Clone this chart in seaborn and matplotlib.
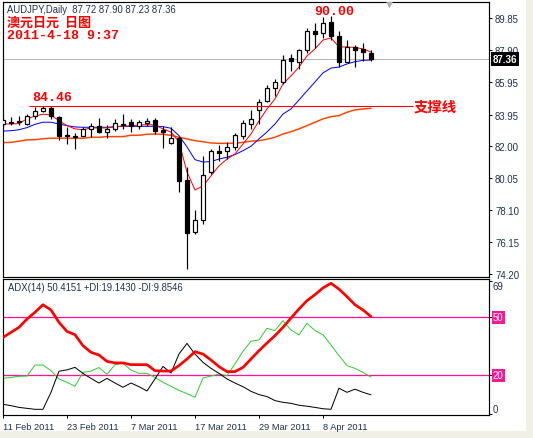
import matplotlib
matplotlib.use('Agg')
import matplotlib.pyplot as plt
import numpy as np
import seaborn as sns

opens = [83.37, 83.49, 83.55, 83.37, 83.86, 84.17, 84.35, 83.80, 82.70, 82.64, 82.64, 83.07, 83.25, 82.88, 83.07, 83.37,
         83.49, 83.25, 83.43, 83.62, 83.01, 82.21, 82.52, 79.95, 76.77, 77.51, 80.44, 81.72, 81.72, 81.97, 82.64, 83.37,
         84.20, 84.78, 85.57, 85.94, 87.41, 87.16, 87.89, 89.05, 88.93, 89.60, 88.75, 87.16, 88.08, 87.96, 87.72]
closes = [83.62, 83.43, 83.49, 83.86, 84.17, 84.35, 83.86, 82.64, 82.64, 82.58, 83.07, 83.25, 82.88, 83.07, 83.43, 83.31,
          83.25, 83.49, 83.56, 82.94, 82.88, 82.52, 79.89, 76.71, 77.51, 80.26, 81.72, 81.60, 81.97, 82.70, 83.43, 83.68,
          84.72, 85.57, 85.94, 87.28, 87.22, 87.89, 89.05, 88.87, 89.54, 88.75, 87.16, 88.08, 87.89, 87.77, 87.36]
highs = [83.74, 83.80, 83.86, 83.98, 84.41, 84.47, 84.47, 83.86, 83.19, 82.82, 83.19, 83.43, 83.74, 83.31, 83.68, 83.98,
         83.68, 83.62, 83.74, 83.74, 83.25, 83.19, 82.58, 80.74, 78.12, 81.42, 81.85, 82.09, 82.27, 82.82, 83.62, 84.23,
         84.90, 85.76, 86.12, 87.59, 87.65, 87.96, 89.24, 89.54, 89.91, 89.97, 89.05, 88.50, 88.20, 88.32, 87.90]
lows = [83.13, 83.31, 83.31, 83.31, 83.68, 84.11, 83.68, 82.40, 82.15, 81.85, 82.64, 82.58, 82.82, 82.52, 82.94, 83.07,
        82.88, 83.07, 83.25, 82.76, 81.91, 82.15, 79.22, 74.51, 76.65, 77.26, 80.32, 81.11, 81.23, 81.78, 82.46, 83.07,
        83.37, 84.72, 85.08, 85.82, 86.61, 86.73, 87.71, 88.02, 88.63, 88.50, 86.85, 87.16, 86.85, 87.22, 87.23]

ma_fast = [83.37, 83.37, 83.40, 83.68, 83.86, 83.97, 83.92, 83.57, 83.27, 83.07, 83.02, 83.13, 83.13, 83.13, 83.19, 83.25,
           83.25, 83.31, 83.33, 83.31, 83.07, 82.88, 82.27, 80.44, 79.34, 79.58, 80.20, 80.81, 81.23, 81.54, 82.15, 82.76,
           83.56, 84.29, 84.90, 85.82, 86.31, 86.85, 87.53, 87.96, 88.50, 88.63, 88.08, 88.08, 88.05, 87.96, 87.77]
ma_mid = [82.94, 82.96, 83.02, 83.15, 83.35, 83.48, 83.48, 83.37, 83.27, 83.19, 83.17, 83.17, 83.17, 83.17, 83.21, 83.23,
          83.23, 83.23, 83.23, 83.23, 83.21, 83.11, 82.66, 81.97, 81.19, 81.05, 81.07, 81.23, 81.34, 81.50, 81.74, 82.01,
          82.46, 82.88, 83.37, 83.98, 84.29, 84.84, 85.39, 85.94, 86.49, 86.79, 86.85, 87.04, 87.18, 87.26, 87.28]
ma_slow = [82.23, 82.25, 82.32, 82.40, 82.41, 82.47, 82.50, 82.50, 82.50, 82.50, 82.50, 82.56, 82.56, 82.60, 82.60, 82.60,
           82.68, 82.68, 82.74, 82.76, 82.74, 82.68, 82.56, 82.46, 82.35, 82.29, 82.21, 82.19, 82.19, 82.19, 82.25, 82.32,
           82.35, 82.44, 82.56, 82.76, 82.90, 83.07, 83.27, 83.48, 83.68, 83.82, 83.88, 84.09, 84.23, 84.29, 84.33]

adx = [39.6, 42.2, 44.8, 49.1, 52.6, 56.5, 53.8, 47.4, 42.7, 41.0, 35.3, 31.9, 30.5, 27.2, 26.4, 26.4,
       25.5, 25.5, 25.5, 22.4, 22.2, 22.2, 25.0, 28.4, 32.2, 31.0, 27.9, 24.5, 21.9, 21.9, 24.1, 28.4,
       32.7, 36.7, 40.5, 44.8, 49.6, 54.3, 58.6, 61.7, 65.2, 67.6, 64.6, 60.7, 56.5, 53.8, 50.4]
plus_di = [18.4, 18.9, 19.5, 19.6, 25.3, 25.3, 22.4, 18.1, 16.4, 14.3, 21.5, 22.2, 24.0, 20.5, 25.5, 26.2,
           22.7, 21.0, 21.0, 18.9, 16.4, 14.3, 12.2, 10.5, 8.6, 18.6, 19.6, 20.7, 19.8, 25.9, 32.4, 37.6,
           38.3, 44.3, 43.1, 48.3, 43.4, 40.9, 46.9, 43.1, 41.0, 35.7, 30.2, 25.0, 23.6, 21.5, 19.1]
minus_di = [5.0, 4.3, 3.4, 2.9, 2.4, 2.4, 11.2, 22.1, 22.8, 24.1, 21.0, 18.4, 16.0, 18.4, 16.0, 13.8,
            16.0, 14.1, 11.9, 18.1, 24.6, 21.2, 31.0, 36.5, 31.0, 26.7, 23.6, 21.0, 18.1, 16.0, 14.1, 11.7,
            10.0, 9.0, 6.9, 6.0, 5.5, 4.5, 4.0, 3.4, 2.7, 2.4, 13.3, 11.2, 12.8, 11.2, 9.9]

price_ticks = [89.85, 87.90, 85.95, 83.95, 82.00, 80.05, 78.10, 76.15, 74.20]
date_ticks = [0, 8, 16, 24, 32, 40]
date_labels = ['11 Feb 2011', '23 Feb 2011', '7 Mar 2011', '17 Mar 2011', '29 Mar 2011', '8 Apr 2011']
last_price = 87.36
support = 84.46
peak = 90.00
adx_levels = [50, 20]

W, H = 533, 439
CJK = ['Noto Sans CJK SC', 'DejaVu Sans']
MONO = 'Liberation Mono'
TICK_COLOR = '#20304a'
PX = 0.72  # one pixel at dpi 100

sns.set_theme(style='white')
plt.rcParams['font.family'] = ['Liberation Sans', 'DejaVu Sans']


def panel(fig, left, top, right, bottom):
    return fig.add_axes([left / W, 1 - bottom / H, (right - left) / W, (bottom - top) / H])


def draw_candles(ax, x):
    o, c, h, l = map(np.array, (opens, closes, highs, lows))
    up = c >= o
    ax.vlines(x, l, h, color='black', lw=PX * 1.2, zorder=4)
    ax.bar(x[up], (c - o)[up], bottom=o[up], width=0.62, facecolor='white', edgecolor='black', lw=PX * 1.2, zorder=5)
    ax.bar(x[~up], (c - o)[~up], bottom=o[~up], width=0.62, facecolor='black', edgecolor='black', lw=PX * 1.2, zorder=5)


fig = plt.figure(figsize=(W / 100, H / 100), dpi=100, facecolor='#f1f0e6')
fig.patches.append(plt.Rectangle((0, 1 - 432 / H), 526 / W, 432 / H, transform=fig.transFigure, facecolor='white', edgecolor='none', zorder=-5))

ax = panel(fig, 2.5, 2.5, 488.5, 277.5)
ax2 = panel(fig, 2.5, 279.5, 488.5, 416)
x = np.arange(len(opens))

ax.axhline(last_price, color='#b4b4b4', lw=PX, zorder=1)
sns.lineplot(x=x, y=ma_slow, ax=ax, color='#ff4500', lw=1.5 * PX, zorder=2)
sns.lineplot(x=x, y=ma_mid, ax=ax, color='#0000ff', lw=PX, zorder=3)
sns.lineplot(x=x, y=ma_fast, ax=ax, color='#ff0000', lw=PX, zorder=3)
draw_candles(ax, x)
ax.hlines(support, 3.2, 51.2, color='#ff0000', lw=PX * 1.1, zorder=6)
ax.plot([48.25], [90.68], marker='v', ms=6, color='#b0b0b0', mec='none', zorder=6)

ax.set_xlim(-0.06, 60.69)
ax.set_ylim(74.05, 90.857)
ax.set_xticks([])
ax.yaxis.tick_right()
ax.set_yticks(price_ticks)
ax.set_yticklabels([f'{t:.2f}' for t in price_ticks])
ax.tick_params(axis='y', right=True, length=2.2, width=PX, pad=2.5, labelsize=6.9, labelcolor=TICK_COLOR, color='black')
ax.text(61.25, last_price, f'{last_price:.2f}', color='white', fontsize=7.1, fontweight='bold', va='center', ha='left', zorder=10,
        bbox=dict(facecolor='black', edgecolor='none', pad=1.4), clip_on=False)

ax.text(3.7, support + 0.2, f'{support:.2f}', color='#ff0000', family=MONO, fontweight='bold', fontsize=9.5, va='bottom', zorder=7)
ax.text(38.9, peak - 0.1, f'{peak:.2f}', color='#ff0000', family=MONO, fontweight='bold', fontsize=9.5, va='bottom', zorder=7, clip_on=False)
ax.text(51.4, support, '支撑线', color='#ff0000', family=CJK, fontweight='bold', fontsize=10.4, va='center', zorder=7)

fig.text(7 / W, 1 - 10 / H, 'AUDJPY,Daily  87.72 87.90 87.23 87.36', color=TICK_COLOR, fontsize=6.85, va='center')
fig.text(7 / W, 1 - 23 / H, '澳元日元  日图', color='#ff0000', family=CJK, fontweight='bold', fontsize=9.4, va='center')
fig.text(7 / W, 1 - 36 / H, '2011-4-18 9:37', color='#ff0000', family=MONO, fontweight='bold', fontsize=9.5, va='center')

for level in adx_levels:
    ax2.axhline(level, color='#ff1493', lw=PX * 1.3, zorder=1)
sns.lineplot(x=x, y=plus_di, ax=ax2, color='#32cd32', lw=PX, zorder=2)
sns.lineplot(x=x, y=minus_di, ax=ax2, color='black', lw=PX, zorder=3)
sns.lineplot(x=x, y=adx, ax=ax2, color='#ff0000', lw=2.7 * PX, zorder=4)

ax2.set_xlim(-0.06, 60.69)
ax2.set_ylim(-0.54, 70.07)
ax2.yaxis.tick_right()
ax2.set_yticks([69, 50, 20, 0])
ax2.set_yticklabels([])
ax2.set_xticks(date_ticks)
ax2.set_xticklabels(date_labels, ha='left')
ax2.tick_params(axis='x', bottom=True, length=2.2, width=PX, pad=2.5, labelsize=6.7, labelcolor=TICK_COLOR, color='black')
ax2.tick_params(axis='y', right=True, length=2.2, width=PX, color='black')

ax2.text(61.25, 69, '69', fontsize=6.9, color=TICK_COLOR, va='top', clip_on=False)
ax2.text(61.25, 0, '0', fontsize=6.9, color=TICK_COLOR, va='bottom', clip_on=False)
for level in adx_levels:
    ax2.text(61.25, level, str(level), fontsize=6.9, color='white', va='center', clip_on=False,
             bbox=dict(facecolor='#ff1493', edgecolor='none', pad=1.0))
ax2.text(0.6, 65.5, 'ADX(14) 50.4151 +DI:19.1430 -DI:9.8546', fontsize=6.85, color=TICK_COLOR, va='center')

for a in (ax, ax2):
    for s in a.spines.values():
        s.set_color('black')
        s.set_linewidth(0.85)
    a.set_xlabel('')
    a.set_ylabel('')

fig.savefig('out.png', dpi=100, facecolor=fig.get_facecolor())
